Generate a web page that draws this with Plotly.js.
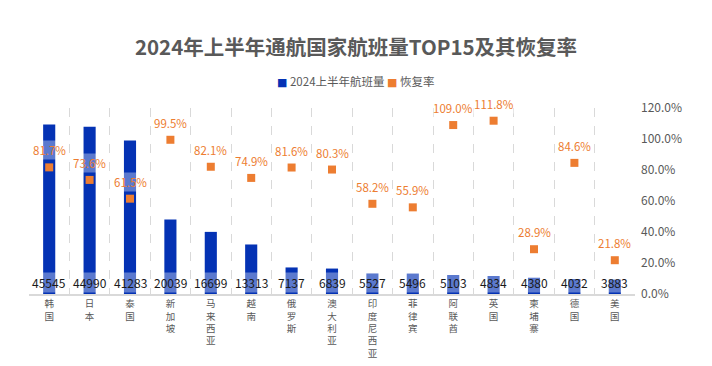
<!DOCTYPE html>
<html><head><meta charset="utf-8">
<script src="https://cdn.plot.ly/plotly-3.0.1.min.js"></script>
<style>html,body{margin:0;padding:0;background:#fff;}#chart{width:712px;height:366px;}</style>
</head><body><div id="chart"></div>
<script>
const countries = ['韩国','日本','泰国','新加坡','马来西亚','越南','俄罗斯','澳大利亚','印度尼西亚','菲律宾','阿联酋','英国','柬埔寨','德国','美国'];
const flights = [45545,44990,41283,20039,16699,13313,7137,6839,5527,5496,5103,4834,4380,4032,3883];
const recovery = [0.817,0.736,0.615,0.995,0.821,0.749,0.816,0.803,0.582,0.559,1.090,1.118,0.289,0.846,0.218];
const y2Ticks = [0,0.2,0.4,0.6,0.8,1.0,1.2];
const seriesNames = ['2024上半年航班量','恢复率'];
const seriesColors = ['#0432B4','#ED7D31'];

const font = "'Noto Sans CJK SC', 'Microsoft YaHei', sans-serif";
const tickText = countries.map(c => c.split('').join('<br>'));

const traces = [
  {type:'bar', name:seriesNames[0], x:countries, y:flights, width:0.3,
   marker:{color:seriesColors[0]}, showlegend:false},
  {type:'scatter', mode:'markers', name:seriesNames[1], x:countries, y:recovery, yaxis:'y2',
   marker:{symbol:'square', size:8, color:seriesColors[1]}, showlegend:false}
];

const annotations = [];
countries.forEach((c,i)=>{
  annotations.push({x:c, y:0, xref:'x', yref:'y', yanchor:'bottom', yshift:1,
    text:String(flights[i]), showarrow:false, bgcolor:'rgba(255,255,255,0.35)', borderpad:1,
    font:{family:font, size:12, color:'#1a1a1a'}});
  annotations.push({x:c, y:recovery[i], xref:'x', yref:'y2', yanchor:'bottom', yshift:7,
    text:(recovery[i]*100).toFixed(1)+'%', showarrow:false, bgcolor:'rgba(255,255,255,0.35)', borderpad:1,
    font:{family:font, size:11.5, color:'#ED7D31'}});
});
// legend drawn as text
const sq = c => '<span style="color:'+c+';font-family:\'DejaVu Sans\';font-size:11px">■</span>';
annotations.push({xref:'paper', yref:'paper', x:0.54, y:1.145, xanchor:'center', yanchor:'middle', showarrow:false,
  text:sq(seriesColors[0])+' '+seriesNames[0]+' '+sq(seriesColors[1])+' '+seriesNames[1],
  font:{family:font, size:11.5, color:'#595959'}});

const layout = {
  width:712, height:366,
  margin:{l:29, r:77, t:108, b:72},
  paper_bgcolor:'#fff', plot_bgcolor:'#fff',
  font:{family:font, color:'#595959'},
  title:{text:'<b>2024年上半年通航国家航班量TOP15及其恢复率</b>', x:0.5, xanchor:'center', y:0.868, yanchor:'middle',
    font:{family:font, size:20.5, color:'#595959'}},
  showlegend:false,
  xaxis:{type:'category', tickson:'boundaries', showgrid:true, griddash:'dash', gridcolor:'#d9d9d9', gridwidth:1,
    showline:true, linecolor:'#d9d9d9', linewidth:2, ticks:'', tickvals:countries, ticktext:tickText,
    tickfont:{family:font, size:9.5, color:'#595959'}, range:[-0.5,14.5]},
  yaxis:{range:[0,50000], visible:false, showgrid:false, zeroline:false},
  yaxis2:{overlaying:'y', side:'right', range:[0,1.2], tickvals:y2Ticks, tickformat:'.1%', ticklabelstandoff:5,
    showgrid:false, zeroline:false, showline:false, ticks:'', tickfont:{family:font, size:12, color:'#595959'}},
  annotations:annotations
};
Plotly.newPlot('chart', traces, layout, {displayModeBar:false, staticPlot:true});
</script></body></html>
